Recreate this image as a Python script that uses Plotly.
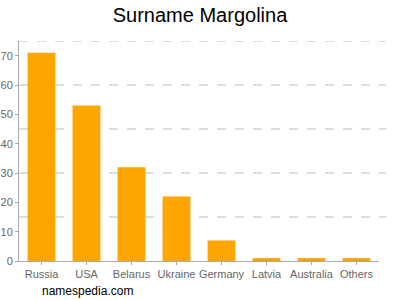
import plotly.graph_objects as go

countries = ["Russia", "USA", "Belarus", "Ukraine", "Germany", "Latvia", "Australia", "Others"]
counts = [71, 53, 32, 22, 7, 1, 1, 1]
y_ticks = [0, 10, 20, 30, 40, 50, 60, 70]
grid_levels = [15, 30, 45, 60, 75]

fig = go.Figure(go.Bar(x=countries, y=counts, marker_color="#FFA500",
                       marker_line_width=0, width=0.62))

for g in grid_levels:
    fig.add_shape(type="line", xref="paper", yref="y", x0=0, x1=1.02, y0=g, y1=g,
                  line=dict(color="#BBBBBB", width=1, dash="dash"), layer="below")

fig.update_layout(
    width=400, height=300,
    margin=dict(l=19, r=21, t=41, b=39),
    paper_bgcolor="white", plot_bgcolor="white",
    title=dict(text="Surname Margolina", x=0.5, xanchor="center", y=0.95, yanchor="middle",
               font=dict(family="Arial, Liberation Sans", size=20, color="black")),
    font=dict(family="Arial, Liberation Sans", size=11, color="#666666"),
    showlegend=False,
)
fig.update_yaxes(range=[0, 75], tickvals=y_ticks, showgrid=False, zeroline=False,
                 showline=True, linecolor="#AAAAAA", linewidth=1, automargin=False,
                 ticks="outside", ticklen=3, tickcolor="#AAAAAA",
                 tickfont=dict(size=11, color="#666666"))
fig.update_xaxes(showline=True, linecolor="#AAAAAA", linewidth=1, automargin=False,
                 tickangle=0, range=[-0.5, 7.5],
                 ticks="outside", ticklen=3, tickcolor="#AAAAAA",
                 tickfont=dict(size=11, color="#666666"))
fig.add_annotation(text="namespedia.com", xref="paper", yref="paper", x=0.058, y=-0.136,
                   xanchor="left", yanchor="middle", showarrow=False,
                   font=dict(size=12, color="black"))
fig.write_html("out.html")
